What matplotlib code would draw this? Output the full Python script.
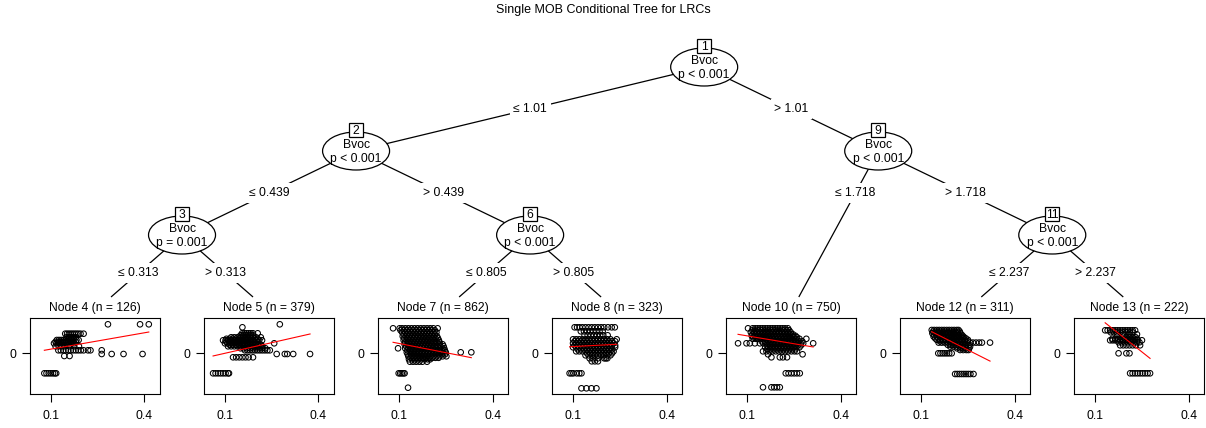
import matplotlib
matplotlib.use("Agg")
import matplotlib.pyplot as plt
from matplotlib.patches import Ellipse, Rectangle

plt.rcParams['font.family'] = ['Liberation Sans', 'DejaVu Sans']

# ---------------- tree structure ----------------
title = "Single MOB Conditional Tree for LRCs"
split_var = "Bvoc"
children = {1: (2, 9), 2: (3, 6), 3: (4, 5), 6: (7, 8), 9: (10, 11), 11: (12, 13)}
split_points = {1: "1.01", 2: "0.439", 3: "0.313", 6: "0.805", 9: "1.718", 11: "2.237"}
p_values = {1: "p < 0.001", 2: "p < 0.001", 3: "p = 0.001", 6: "p < 0.001",
            9: "p < 0.001", 11: "p < 0.001"}
terminal_n = {4: 126, 5: 379, 7: 862, 8: 323, 10: 750, 12: 311, 13: 222}

# ---------------- terminal node data: rows of (y, [x ...]) ----------------
node4 = [
    (2.9, [0.283, 0.386, 0.414]),
    (1.96, [0.146, 0.152, 0.158, 0.164, 0.170, 0.176, 0.182, 0.188, 0.195, 0.205]),
    (1.6, [0.150, 0.158, 0.165, 0.172, 0.180]),
    (1.33, [0.119, 0.126, 0.133, 0.140, 0.147, 0.154, 0.161, 0.168, 0.175, 0.182, 0.189]),
    (1.15, [0.115, 0.123, 0.131, 0.139, 0.147, 0.155, 0.163, 0.171, 0.180]),
    (1.0, [0.110, 0.118, 0.126, 0.134, 0.142, 0.150, 0.158, 0.166, 0.174]),
    (0.7, [0.115, 0.125, 0.135, 0.145, 0.160, 0.175, 0.190]),
    (0.3, [0.124, 0.132, 0.140, 0.148, 0.156, 0.164, 0.172, 0.180, 0.188, 0.196,
           0.205, 0.219, 0.227, 0.263]),
    (-0.07, [0.263, 0.295, 0.333, 0.394]),
    (-0.27, [0.143, 0.160]),
    (-2.0, [0.079, 0.086, 0.093, 0.100, 0.107, 0.113, 0.117]),
]
node5 = [
    (2.9, [0.276]),
    (2.6, [0.156]),
    (2.0, [0.155, 0.162, 0.169, 0.176, 0.183, 0.190, 0.205]),
    (1.8, [0.150, 0.158, 0.166, 0.174, 0.182, 0.190]),
    (1.6, [0.120, 0.130, 0.140, 0.150, 0.160, 0.170, 0.180, 0.190, 0.200, 0.215]),
    (1.45, [0.105, 0.115, 0.125, 0.135, 0.145, 0.155, 0.165, 0.175, 0.185, 0.195,
            0.205]),
    (1.3, [0.094, 0.102, 0.110, 0.118, 0.126, 0.134, 0.142, 0.150, 0.158, 0.166,
           0.174, 0.182, 0.190, 0.200, 0.210, 0.219]),
    (1.15, [0.105, 0.115, 0.125, 0.135, 0.145, 0.155, 0.165, 0.175, 0.185, 0.195,
            0.205]),
    (1.0, [0.100, 0.108, 0.116, 0.124, 0.132, 0.140, 0.148, 0.156, 0.164, 0.172,
           0.180, 0.190, 0.200, 0.258]),
    (0.85, [0.115, 0.125, 0.135, 0.145, 0.155, 0.165, 0.175, 0.185, 0.195, 0.205,
            0.215]),
    (0.7, [0.110, 0.120, 0.130, 0.140, 0.150, 0.160, 0.170, 0.180, 0.190, 0.200,
           0.210, 0.220]),
    (0.5, [0.150, 0.160, 0.170, 0.180, 0.190, 0.200, 0.210, 0.220, 0.230]),
    (0.3, [0.164, 0.172, 0.180, 0.188, 0.196, 0.204, 0.212, 0.220, 0.228, 0.236, 0.244]),
    (-0.07, [0.266, 0.292, 0.300, 0.319, 0.373]),
    (-0.4, [0.126, 0.136, 0.146, 0.156, 0.166, 0.176, 0.190]),
    (-2.0, [0.062, 0.070, 0.078, 0.086, 0.094, 0.102, 0.110, 0.113]),
]
node7 = [
    (2.5, [0.081, 0.102, 0.110, 0.120, 0.130, 0.140, 0.150, 0.160, 0.170, 0.180,
           0.190, 0.200, 0.210, 0.224]),
    (2.3, [0.105, 0.115, 0.125, 0.135, 0.145, 0.155, 0.165, 0.175, 0.185, 0.195,
           0.205, 0.215]),
    (2.1, [0.110, 0.120, 0.130, 0.140, 0.150, 0.160, 0.170, 0.180, 0.190, 0.200,
           0.210, 0.220]),
    (1.9, [0.115, 0.125, 0.135, 0.145, 0.155, 0.165, 0.175, 0.185, 0.195, 0.205,
           0.215]),
    (1.7, [0.112, 0.122, 0.132, 0.142, 0.152, 0.162, 0.172, 0.182, 0.192, 0.202,
           0.212, 0.222]),
    (1.5, [0.117, 0.127, 0.137, 0.147, 0.157, 0.167, 0.177, 0.187, 0.197, 0.207,
           0.217, 0.225]),
    (1.3, [0.115, 0.125, 0.135, 0.145, 0.155, 0.165, 0.175, 0.185, 0.195, 0.205,
           0.215, 0.228]),
    (1.1, [0.120, 0.130, 0.140, 0.150, 0.160, 0.170, 0.180, 0.190, 0.200, 0.210,
           0.220, 0.230]),
    (0.9, [0.118, 0.128, 0.138, 0.148, 0.158, 0.168, 0.178, 0.188, 0.198, 0.208,
           0.218, 0.230, 0.240]),
    (0.7, [0.123, 0.133, 0.143, 0.153, 0.163, 0.173, 0.183, 0.193, 0.203, 0.213,
           0.223, 0.233, 0.243]),
    (0.5, [0.097, 0.120, 0.130, 0.140, 0.150, 0.160, 0.170, 0.180, 0.190, 0.200,
           0.210, 0.220, 0.232, 0.245]),
    (0.3, [0.127, 0.137, 0.147, 0.157, 0.167, 0.177, 0.187, 0.197, 0.207, 0.217,
           0.227, 0.237, 0.247]),
    (0.1, [0.125, 0.135, 0.145, 0.155, 0.165, 0.175, 0.185, 0.195, 0.205, 0.215,
           0.225, 0.235, 0.250, 0.298, 0.332]),
    (-0.1, [0.128, 0.138, 0.148, 0.158, 0.168, 0.178, 0.188, 0.198, 0.208, 0.218,
            0.228, 0.238, 0.248]),
    (-0.3, [0.130, 0.140, 0.150, 0.160, 0.170, 0.180, 0.190, 0.200, 0.210, 0.220,
            0.230, 0.240, 0.252]),
    (-0.45, [0.137, 0.147, 0.157, 0.167, 0.177, 0.187, 0.197, 0.207, 0.217, 0.227]),
    (-0.6, [0.132, 0.142, 0.152, 0.162, 0.172, 0.182, 0.192, 0.200]),
    (-0.84, [0.135, 0.145, 0.155, 0.165, 0.175, 0.190]),
    (-2.0, [0.099, 0.104, 0.109, 0.114, 0.118]),
    (-3.44, [0.129]),
]
node8 = [
    (2.6, [0.105, 0.113, 0.121, 0.130, 0.140, 0.150, 0.160, 0.170, 0.180, 0.190,
           0.200, 0.212, 0.224, 0.234]),
    (2.2, [0.125, 0.135, 0.145, 0.155, 0.165, 0.175, 0.185, 0.195]),
    (1.8, [0.137, 0.147, 0.157, 0.167, 0.177, 0.187, 0.197, 0.211]),
    (1.4, [0.100, 0.110, 0.120, 0.130, 0.140, 0.150, 0.160, 0.170, 0.180, 0.190,
           0.200, 0.210, 0.220, 0.240]),
    (1.2, [0.105, 0.115, 0.125, 0.135, 0.145, 0.155, 0.165, 0.175, 0.185, 0.195,
           0.205, 0.215, 0.225, 0.235]),
    (1.0, [0.100, 0.110, 0.120, 0.130, 0.140, 0.150, 0.160, 0.170, 0.180, 0.190,
           0.200, 0.210, 0.220, 0.230]),
    (0.8, [0.105, 0.115, 0.125, 0.135, 0.145, 0.155, 0.165, 0.175, 0.185, 0.195,
           0.205, 0.215, 0.225, 0.235]),
    (0.6, [0.100, 0.110, 0.120, 0.130, 0.140, 0.150, 0.160, 0.170, 0.180, 0.190,
           0.200, 0.210, 0.220, 0.235]),
    (0.4, [0.115, 0.125, 0.135, 0.145, 0.155, 0.165, 0.175, 0.185, 0.195, 0.205,
           0.215, 0.225]),
    (0.2, [0.110, 0.120, 0.130, 0.140, 0.150, 0.160, 0.170, 0.180, 0.190, 0.200,
           0.210, 0.220, 0.230]),
    (0.0, [0.145, 0.155, 0.165, 0.175, 0.185, 0.195, 0.205, 0.215, 0.225]),
    (-0.2, [0.140, 0.150, 0.160, 0.170, 0.180, 0.190, 0.200, 0.210, 0.220]),
    (-0.5, [0.153, 0.163, 0.180, 0.200, 0.205, 0.210]),
    (-0.8, [0.160, 0.170, 0.180]),
    (-2.0, [0.089, 0.095, 0.101, 0.112, 0.120, 0.127]),
    (-3.5, [0.127, 0.143, 0.159, 0.175]),
]
node10 = [
    (2.5, [0.103, 0.118, 0.126, 0.134, 0.142, 0.150, 0.158, 0.166, 0.174, 0.182,
           0.190, 0.198, 0.206, 0.214, 0.222, 0.231]),
    (2.3, [0.117, 0.127, 0.137, 0.147, 0.157, 0.167, 0.177, 0.187, 0.197, 0.207,
           0.217, 0.227, 0.235]),
    (2.1, [0.112, 0.122, 0.132, 0.142, 0.152, 0.162, 0.172, 0.182, 0.192, 0.202,
           0.212, 0.222, 0.232, 0.240]),
    (1.9, [0.117, 0.127, 0.137, 0.147, 0.157, 0.167, 0.177, 0.187, 0.197, 0.207,
           0.217, 0.227, 0.237, 0.247]),
    (1.75, [0.115, 0.125, 0.135, 0.145, 0.155, 0.165, 0.175, 0.185, 0.195, 0.205,
            0.215, 0.225, 0.235, 0.245, 0.255]),
    (1.6, [0.120, 0.130, 0.140, 0.150, 0.160, 0.170, 0.180, 0.190, 0.200, 0.210,
           0.220, 0.230, 0.240, 0.250, 0.260]),
    (1.45, [0.118, 0.128, 0.138, 0.148, 0.158, 0.168, 0.178, 0.188, 0.198, 0.208,
            0.218, 0.228, 0.238, 0.248, 0.258, 0.268, 0.290]),
    (1.2, [0.147, 0.157, 0.167, 0.177, 0.187, 0.197, 0.207, 0.217, 0.227, 0.237,
           0.247, 0.257, 0.267, 0.277]),
    (1.0, [0.071, 0.098, 0.109, 0.125, 0.141, 0.152, 0.162, 0.172, 0.182, 0.192,
           0.202, 0.212, 0.222, 0.232, 0.242, 0.252, 0.262, 0.272, 0.280, 0.312]),
    (0.8, [0.163, 0.173, 0.183, 0.193, 0.203, 0.213, 0.223, 0.233, 0.243, 0.253,
           0.263, 0.273]),
    (0.6, [0.158, 0.168, 0.178, 0.188, 0.198, 0.208, 0.218, 0.228, 0.238, 0.248,
           0.258, 0.268]),
    (0.4, [0.165, 0.175, 0.185, 0.195, 0.205, 0.215, 0.225, 0.235, 0.245, 0.255]),
    (0.2, [0.151, 0.162, 0.172, 0.182, 0.192, 0.202, 0.212, 0.222, 0.232, 0.242,
           0.252, 0.260]),
    (-0.1, [0.167, 0.278]),
    (-0.4, [0.178, 0.205, 0.215, 0.228]),
    (-2.0, [0.224, 0.233, 0.242, 0.251, 0.260, 0.269]),
    (-3.4, [0.151, 0.178, 0.187, 0.196, 0.205]),
]
node12 = [
    (2.33, [0.134, 0.142, 0.150, 0.158, 0.166, 0.174, 0.182, 0.190, 0.198, 0.206,
            0.214, 0.220]),
    (2.17, [0.138, 0.146, 0.154, 0.162, 0.170, 0.178, 0.186, 0.194, 0.202, 0.210,
            0.218, 0.224]),
    (2.0, [0.136, 0.146, 0.156, 0.166, 0.176, 0.186, 0.196, 0.206, 0.216, 0.226]),
    (1.83, [0.141, 0.151, 0.161, 0.171, 0.181, 0.191, 0.201, 0.211, 0.221, 0.231]),
    (1.67, [0.140, 0.150, 0.160, 0.170, 0.180, 0.190, 0.200, 0.210, 0.220, 0.230, 0.236]),
    (1.5, [0.145, 0.155, 0.165, 0.175, 0.185, 0.195, 0.205, 0.215, 0.225, 0.235,
           0.243]),
    (1.35, [0.150, 0.160, 0.170, 0.180, 0.190, 0.200, 0.210, 0.220, 0.230, 0.240, 0.250]),
    (1.2, [0.160, 0.170, 0.180, 0.190, 0.200, 0.210, 0.220, 0.230, 0.240, 0.250]),
    (1.07, [0.156, 0.166, 0.176, 0.186, 0.196, 0.206, 0.216, 0.226, 0.236, 0.246,
            0.257, 0.266, 0.276, 0.286, 0.295, 0.321]),
    (0.85, [0.185, 0.195, 0.205, 0.215, 0.225, 0.235, 0.245, 0.255]),
    (0.67, [0.193, 0.203, 0.213, 0.223, 0.233, 0.243, 0.257]),
    (0.5, [0.215, 0.225, 0.235, 0.245, 0.254]),
    (0.33, [0.225, 0.235, 0.245, 0.252]),
    (0.0, [0.155, 0.162, 0.169, 0.176, 0.183, 0.190, 0.198]),
    (-2.07, [0.209, 0.216, 0.223, 0.230, 0.237, 0.244, 0.251, 0.258, 0.268]),
]
node13 = [
    (2.3, [0.132, 0.140, 0.148, 0.156, 0.164, 0.172, 0.180, 0.188, 0.196, 0.204,
           0.212, 0.220, 0.228]),
    (2.1, [0.150, 0.160, 0.170, 0.180, 0.190, 0.200, 0.210, 0.220]),
    (1.9, [0.170, 0.190, 0.210, 0.234]),
    (1.6, [0.200, 0.210, 0.220, 0.230]),
    (1.45, [0.155, 0.165, 0.175, 0.185, 0.195, 0.205, 0.215, 0.225, 0.235]),
    (1.3, [0.148, 0.156, 0.164, 0.172, 0.180, 0.188, 0.196, 0.204, 0.212, 0.220,
           0.228, 0.236, 0.250]),
    (1.1, [0.175, 0.185, 0.195, 0.205, 0.215, 0.225, 0.235, 0.242]),
    (0.8, [0.180, 0.190, 0.200, 0.210, 0.220, 0.230, 0.244]),
    (0.0, [0.175, 0.200, 0.210]),
    (-2.0, [0.212, 0.220, 0.228, 0.236, 0.244, 0.252, 0.260, 0.268, 0.276]),
]
node_data = {4: node4, 5: node5, 7: node7, 8: node8, 10: node10, 12: node12, 13: node13}

# fitted regression (intercept, slope) per terminal node
coefs = {4: (-0.128, 5.45), 5: (-0.705, 7.07), 7: (1.597, -6.13), 8: (0.508, 1.64),
         10: (2.27, -5.25), 12: (4.26, -15.7), 13: (6.31, -24.7)}

x_ticks = [0.1, 0.4]
x_tick_labels = ["0.1", "0.4"]

# ---------------- layout (pixel units) ----------------
W, H = 1206, 428
FS = 8.7
leaf_x0, leaf_dx = 95.0, 174.05
level_y0, level_dy = 67.0, 84.0
term_y = 311.0          # edge end for terminal nodes
term_top = 297.0        # top of terminal panel region
panel_w, panel_top, panel_bot = 130.0, 317.7, 394.0
xlim = (0.033, 0.450)
ylim = (-4.07, 3.56)

fig = plt.figure(figsize=(W / 100, H / 100), dpi=100)
bg = fig.add_axes([0, 0, 1, 1])
bg.set_xlim(0, W)
bg.set_ylim(H, 0)
bg.axis('off')

# leaf order and node positions
leaves = []


def collect(n):
    if n in children:
        for c in children[n]:
            collect(c)
    else:
        leaves.append(n)


collect(1)


def leaf_span(n):
    if n not in children:
        i = leaves.index(n)
        return i, i
    a, _ = leaf_span(children[n][0])
    _, b = leaf_span(children[n][1])
    return a, b


pos = {}


def place(n, depth):
    if n in children:
        left = children[n][0]
        _, lb = leaf_span(left)
        x = leaf_x0 + leaf_dx * (lb + 0.5)
        pos[n] = (x, level_y0 + level_dy * depth)
        for c in children[n]:
            place(c, depth + 1)
    else:
        pos[n] = (leaf_x0 + leaf_dx * leaves.index(n), term_y)


place(1, 0)

fig.text(0.5, 1 - 10.5 / H, title, ha='center', va='center', fontsize=FS + 0.3)

# edges and edge labels
for n, (cl, cr) in children.items():
    x0, y0 = pos[n]
    for c, sym in ((cl, "\u2264 "), (cr, "> ")):
        x1, y1 = pos[c]
        if c in children:
            xe, ye = x1, y1
        else:
            t = (term_top - y0) / (y1 - y0)
            xe, ye = x0 + (x1 - x0) * t, term_top
        bg.plot([x0, xe], [y0, ye], color='black', lw=0.9, zorder=1,
                solid_capstyle='butt')
        ly = y0 + min(level_dy / 2, (y1 - y0) / 2)
        lx = x0 + (x1 - x0) * (ly - y0) / (y1 - y0)
        bg.text(lx, ly, sym + split_points[n], ha='center', va='center', fontsize=FS,
                zorder=3, bbox=dict(facecolor='white', edgecolor='none', pad=2.5))

# inner nodes
for n in children:
    x, y = pos[n]
    bg.add_patch(Ellipse((x, y), 67, 38, facecolor='white', edgecolor='black',
                         lw=0.9, zorder=2))
    bg.add_patch(Rectangle((x - 7, y - 28), 14, 14, facecolor='white',
                           edgecolor='black', lw=0.9, zorder=3))
    bg.text(x, y - 20.5, str(n), ha='center', va='center', fontsize=FS, zorder=4)
    bg.text(x, y - 6, split_var, ha='center', va='center', fontsize=FS, zorder=4)
    bg.text(x, y + 8, p_values[n], ha='center', va='center', fontsize=FS, zorder=4)

# terminal panels
for n in leaves:
    cx = pos[n][0]
    bg.text(cx, 308, f"Node {n} (n = {terminal_n[n]})", ha='center', va='center',
            fontsize=FS)
    ax = fig.add_axes([(cx - panel_w / 2) / W, 1 - panel_bot / H,
                       panel_w / W, (panel_bot - panel_top) / H])
    xs, ys = [], []
    for yv, row in node_data[n]:
        xs.extend(row)
        ys.extend([yv] * len(row))
    ax.scatter(xs, ys, s=16, facecolors='none', edgecolors='black', linewidths=0.75,
               zorder=2)
    a, b = coefs[n]
    xmn, xmx = min(xs), max(xs)
    ax.plot([xmn, xmx], [a + b * xmn, a + b * xmx], color='red', lw=0.8, zorder=3)
    ax.set_xlim(*xlim)
    ax.set_ylim(*ylim)
    ax.set_xticks(x_ticks)
    ax.set_xticklabels(x_tick_labels)
    ax.set_yticks([0])
    ax.set_yticklabels(["0"])
    ax.tick_params(axis='x', length=5.5, width=0.8, labelsize=FS, pad=6)
    ax.tick_params(axis='y', length=5.5, width=0.8, labelsize=FS, pad=4.5)
    for s in ax.spines.values():
        s.set_linewidth(0.8)

fig.savefig("out.png", dpi=100)
